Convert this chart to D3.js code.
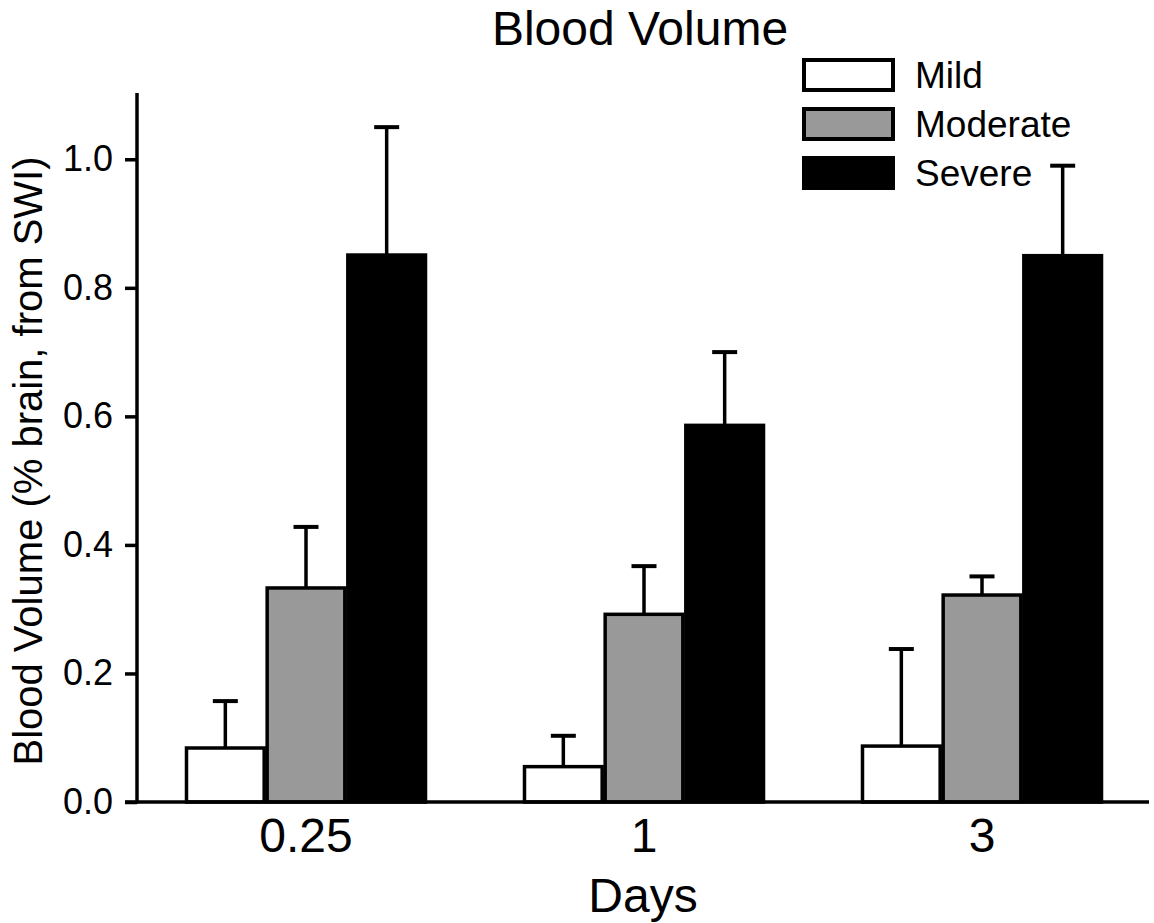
<!DOCTYPE html>
<html>
<head>
<meta charset="utf-8">
<script src="https://cdn.jsdelivr.net/npm/d3@7"></script>
<style>
  body { margin: 0; background: #fff; }
  svg { display: block; font-family: "Liberation Sans", Arial, sans-serif; }
</style>
</head>
<body>
<svg id="chart" width="1154" height="923"></svg>
<script>
// data
var days = ["0.25", "1", "3"];
var severities = ["Mild", "Moderate", "Severe"];
var means = {
    "Mild":     [0.084, 0.055, 0.087],
    "Moderate": [0.333, 0.292, 0.322],
    "Severe":   [0.851, 0.586, 0.850]
};
var errors = {
    "Mild":     [0.073, 0.048, 0.151],
    "Moderate": [0.095, 0.075, 0.029],
    "Severe":   [0.199, 0.114, 0.140]
};
var yTicks = [0, 0.2, 0.4, 0.6, 0.8, 1.0];
var fills = {"Mild": "#ffffff", "Moderate": "#999999", "Severe": "#000000"};

var margin = {top: 95, right: 3, bottom: 121, left: 137};
var svgWidth = 1154, svgHeight = 923;
var width = svgWidth - margin.left - margin.right;
var height = svgHeight - margin.top - margin.bottom;

var svg = d3.select("#chart");
var g = svg.append("g")
    .attr("transform", "translate(" + margin.left + "," + margin.top + ")");

// scales
var xScale = d3.scaleBand()
    .domain(days)
    .range([0, 1014])
    .paddingInner(0.284)
    .paddingOuter(0.142);

var subScale = d3.scaleBand()
    .domain(severities)
    .range([0, xScale.bandwidth()]);

var yScale = d3.scaleLinear()
    .domain([0, 1.1])
    .range([height, 0]);

// flatten rows for drawing
var rows = [];
days.forEach(function(day, i){
    severities.forEach(function(s){
        rows.push({day: day, sev: s, mean: means[s][i], err: errors[s][i]});
    });
});

// error bars (upper only), drawn behind bars
var errG = g.append("g");
errG.selectAll("line.stem")
    .data(rows)
    .enter().append("line")
    .attr("class", "stem")
    .attr("x1", d => xScale(d.day) + subScale(d.sev) + subScale.bandwidth() / 2)
    .attr("x2", d => xScale(d.day) + subScale(d.sev) + subScale.bandwidth() / 2)
    .attr("y1", d => yScale(d.mean))
    .attr("y2", d => yScale(d.mean + d.err))
    .attr("stroke", "#000")
    .attr("stroke-width", 3.5);

errG.selectAll("line.cap")
    .data(rows)
    .enter().append("line")
    .attr("class", "cap")
    .attr("x1", d => xScale(d.day) + subScale(d.sev) + subScale.bandwidth() / 2 - 12.5)
    .attr("x2", d => xScale(d.day) + subScale(d.sev) + subScale.bandwidth() / 2 + 12.5)
    .attr("y1", d => yScale(d.mean + d.err))
    .attr("y2", d => yScale(d.mean + d.err))
    .attr("stroke", "#000")
    .attr("stroke-width", 4);

// bars
g.selectAll("rect.bar")
    .data(rows)
    .enter().append("rect")
    .attr("class", "bar")
    .attr("x", d => xScale(d.day) + subScale(d.sev) + 1.5)
    .attr("y", d => yScale(d.mean))
    .attr("width", subScale.bandwidth() - 3)
    .attr("height", d => height - yScale(d.mean))
    .attr("fill", d => fills[d.sev])
    .attr("stroke", "#000")
    .attr("stroke-width", 3.5);

// y axis
var yAxis = d3.axisLeft(yScale)
    .tickValues(yTicks)
    .tickFormat(d3.format(".1f"))
    .tickSize(12)
    .tickPadding(12);

var yAxisG = g.append("g").call(yAxis);
yAxisG.select(".domain").remove();
yAxisG.append("line")
    .attr("x1", 0).attr("x2", 0)
    .attr("y1", -2).attr("y2", height + 1.5)
    .attr("stroke", "#000")
    .attr("stroke-width", 3.5);
yAxisG.selectAll(".tick line").attr("stroke", "#000").attr("stroke-width", 3.5);
yAxisG.selectAll(".tick text")
    .attr("fill", "#000")
    .style("font-size", "36px")
    .style("font-family", "'Liberation Sans', Arial, sans-serif");

// x axis
var xAxisG = g.append("g")
    .attr("transform", "translate(0," + height + ")");
xAxisG.append("line")
    .attr("x1", -12).attr("x2", 1012)
    .attr("y1", 0).attr("y2", 0)
    .attr("stroke", "#000")
    .attr("stroke-width", 3.5);
xAxisG.selectAll("text")
    .data(days)
    .enter().append("text")
    .attr("x", d => xScale(d) + xScale.bandwidth() / 2)
    .attr("y", 50)
    .attr("text-anchor", "middle")
    .style("font-size", "48px")
    .text(d => d);

// titles
svg.append("text")
    .attr("x", 640)
    .attr("y", 45)
    .attr("text-anchor", "middle")
    .style("font-size", "48px")
    .text("Blood Volume");

svg.append("text")
    .attr("x", 643)
    .attr("y", 912)
    .attr("text-anchor", "middle")
    .style("font-size", "48px")
    .text("Days");

svg.append("text")
    .attr("transform", "translate(42," + 461 + ") rotate(-90)")
    .attr("text-anchor", "middle")
    .style("font-size", "40px")
    .text("Blood Volume (% brain, from SWI)");

// legend
var legend = svg.append("g").attr("transform", "translate(804,60)");
var legendItems = legend.selectAll("g")
    .data(severities)
    .enter().append("g")
    .attr("transform", (d, i) => "translate(0," + (i * 49) + ")");
legendItems.append("rect")
    .attr("x", 0).attr("y", 0)
    .attr("width", 89).attr("height", 30)
    .attr("fill", d => fills[d])
    .attr("stroke", "#000")
    .attr("stroke-width", 4);
legendItems.append("text")
    .attr("x", 111)
    .attr("y", 28)
    .style("font-size", "37px")
    .text(d => d);
</script>
</body>
</html>
